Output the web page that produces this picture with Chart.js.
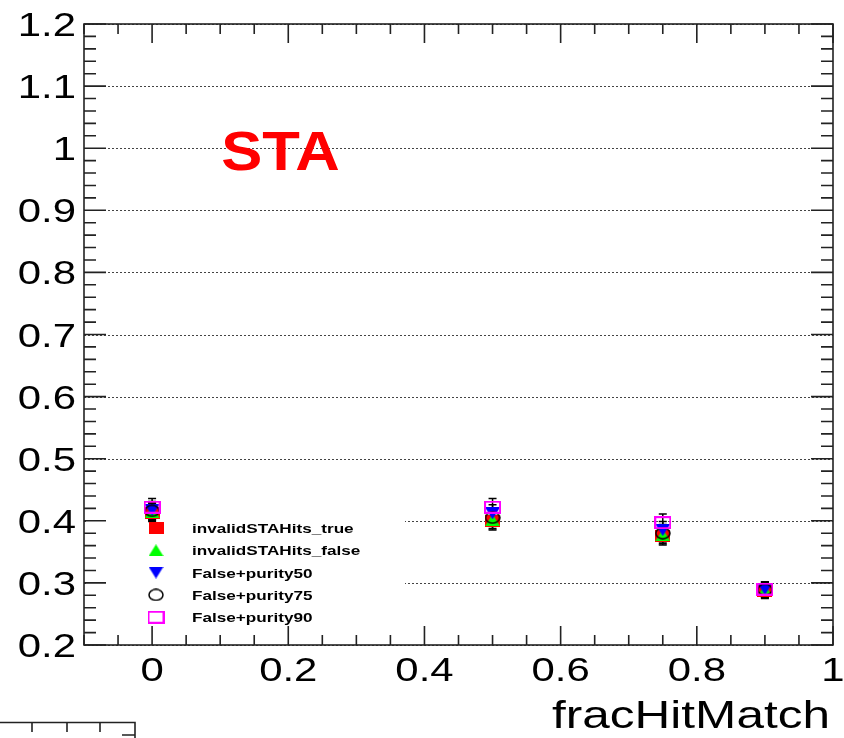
<!DOCTYPE html>
<html><head><meta charset="utf-8">
<script src="https://cdn.jsdelivr.net/npm/chart.js@4.4.0/dist/chart.umd.min.js"></script>
<style>html,body{margin:0;padding:0;background:#fff;}#wrap{width:844px;height:738px;}</style>
</head><body><div id="wrap"><canvas id="c" width="844" height="738"></canvas></div>
<script>
// ---- data ----
const fracHitMatch = [0, 0.5, 0.75, 0.9];
const seriesLabels = ['invalidSTAHits_true', 'invalidSTAHits_false', 'False+purity50', 'False+purity75', 'False+purity90'];
const invalidSTAHitsTrue  = [0.413, 0.399, 0.375, 0.287];
const invalidSTAHitsFalse = [0.414, 0.401, 0.377, 0.288];
const falsePurity50       = [0.417, 0.412, 0.385, 0.290];
const falsePurity75       = [0.416, 0.405, 0.380, 0.289];
const falsePurity90       = [0.422, 0.422, 0.397, 0.290];
const errTrue   = [0.014, 0.014, 0.014, 0.012];
const errFalse  = [0.014, 0.014, 0.014, 0.012];
const err50     = [0.014, 0.014, 0.014, 0.012];
const err75     = [0.014, 0.014, 0.014, 0.012];
const err90     = [0.014, 0.014, 0.014, 0.012];
const yTickValues = [0.2, 0.3, 0.4, 0.5, 0.6, 0.7, 0.8, 0.9, 1.0, 1.1, 1.2];
const yTickLabels = ['0.2', '0.3', '0.4', '0.5', '0.6', '0.7', '0.8', '0.9', '1', '1.1', '1.2'];
const xTickValues = [0, 0.2, 0.4, 0.6, 0.8, 1.0];
const xTickLabels = ['0', '0.2', '0.4', '0.6', '0.8', '1'];
const xAxisTitle = 'fracHitMatch';
const plotLabel = 'STA';

const values = [invalidSTAHitsTrue, invalidSTAHitsFalse, falsePurity50, falsePurity75, falsePurity90];
const errors = [errTrue, errFalse, err50, err75, err90];

// ---- styling ----
const SX = 1.27; // horizontal text stretch of the original picture
const FONT = '"Liberation Sans", Arial, Helvetica, sans-serif';

function makeMarker(w, h, draw) {
  const c = document.createElement('canvas');
  c.width = w; c.height = h;
  draw(c.getContext('2d'), w, h);
  return c;
}
const markers = [
  makeMarker(15, 12, (g, w, h) => { g.fillStyle = '#ff0000'; g.fillRect(0, 0, w, h); }),
  makeMarker(15, 12, (g, w, h) => { g.fillStyle = '#00ff00'; g.beginPath(); g.moveTo(w / 2, 0); g.lineTo(w, h); g.lineTo(0, h); g.closePath(); g.fill(); }),
  makeMarker(15, 12, (g, w, h) => { g.fillStyle = '#0000ff'; g.beginPath(); g.moveTo(0, 0); g.lineTo(w, 0); g.lineTo(w / 2, h); g.closePath(); g.fill(); }),
  makeMarker(16, 13, (g, w, h) => { g.strokeStyle = '#000'; g.lineWidth = 1.5; g.beginPath(); g.ellipse(w / 2, h / 2, w / 2 - 1, h / 2 - 1, 0, 0, Math.PI * 2); g.stroke(); }),
  makeMarker(17, 13, (g, w, h) => { g.strokeStyle = '#ff00ff'; g.lineWidth = 2; g.strokeRect(1, 1, w - 2, h - 2); })
];

function sText(ctx, text, x, y, align, font, color, sx) {
  const k = sx || SX;
  ctx.save();
  ctx.font = font;
  ctx.fillStyle = color;
  ctx.textBaseline = 'alphabetic';
  ctx.textAlign = 'left';
  const w = ctx.measureText(text).width * k;
  const x0 = align === 'right' ? x - w : (align === 'center' ? x - w / 2 : x);
  ctx.translate(x0, y);
  ctx.scale(k, 1);
  ctx.fillText(text, 0, 0);
  ctx.restore();
}

const datasets = seriesLabels.map((lab, i) => ({
  label: lab,
  data: fracHitMatch.map((x, j) => ({ x: x, y: values[i][j] })),
  pointStyle: markers[i],
  pointRadius: 8,
  showLine: false,
  order: seriesLabels.length - 1 - i
}));

const rootPlugin = {
  id: 'rootStyle',
  beforeDatasetsDraw(chart) {
    const { ctx, chartArea: a, scales: { x, y } } = chart;
    // dotted horizontal grid
    ctx.save();
    ctx.strokeStyle = '#444';
    ctx.lineWidth = 1;
    ctx.setLineDash([2, 2]);
    yTickValues.forEach(v => {
      const py = Math.round(y.getPixelForValue(v)) + 0.5;
      ctx.beginPath(); ctx.moveTo(a.left, py); ctx.lineTo(a.right, py); ctx.stroke();
    });
    ctx.restore();
    // legend box (white, covers grid)
    ctx.save();
    ctx.fillStyle = '#fff';
    ctx.fillRect(a.left + 2, a.top + 490, 319, 118);
    ctx.restore();
    // error bars
    ctx.save();
    ctx.strokeStyle = '#000';
    ctx.lineWidth = 1.5;
    values.forEach((vals, i) => {
      vals.forEach((v, j) => {
        const px = x.getPixelForValue(fracHitMatch[j]);
        const p1 = y.getPixelForValue(v + errors[i][j]);
        const p2 = y.getPixelForValue(v - errors[i][j]);
        ctx.beginPath();
        ctx.moveTo(px, p1); ctx.lineTo(px, p2);
        ctx.moveTo(px - 4, p1); ctx.lineTo(px + 4, p1);
        ctx.moveTo(px - 4, p2); ctx.lineTo(px + 4, p2);
        ctx.stroke();
      });
    });
    ctx.restore();
  },
  afterDraw(chart) {
    const { ctx, chartArea: a, scales: { x, y } } = chart;
    ctx.save();
    ctx.strokeStyle = '#222';
    ctx.lineWidth = 1.6;
    // frame
    ctx.strokeRect(a.left, a.top, a.right - a.left, a.bottom - a.top);
    // x ticks (bottom & top), minor every 0.05
    for (let k = -2; k <= 20; k++) {
      const v = k * 0.05;
      if (v < x.min - 1e-9 || v > x.max + 1e-9) continue;
      const px = x.getPixelForValue(v);
      const len = (k % 4 === 0) ? 19 : 10;
      ctx.beginPath();
      ctx.moveTo(px, a.bottom); ctx.lineTo(px, a.bottom - len);
      ctx.moveTo(px, a.top); ctx.lineTo(px, a.top + len);
      ctx.stroke();
    }
    // y ticks, minor every 0.02
    for (let k = 10; k <= 60; k++) {
      const v = k * 0.02;
      const py = y.getPixelForValue(v);
      const len = (k % 5 === 0) ? 22 : 12;
      ctx.beginPath();
      ctx.moveTo(a.left, py); ctx.lineTo(a.left + len, py);
      ctx.moveTo(a.right, py); ctx.lineTo(a.right - len, py);
      ctx.stroke();
    }
    // fragment of neighbouring pad at bottom-left
    ctx.beginPath();
    ctx.moveTo(0, 722.5); ctx.lineTo(135, 722.5); ctx.lineTo(135, 738);
    [32, 67, 100].forEach(t => { ctx.moveTo(t, 722.5); ctx.lineTo(t, 732); });
    ctx.moveTo(122, 735); ctx.lineTo(135, 735);
    ctx.stroke();
    ctx.restore();

    // tick labels
    const tf = '33px ' + FONT;
    yTickValues.forEach((v, i) => {
      sText(ctx, yTickLabels[i], a.left - 8, y.getPixelForValue(v) + 12, 'right', tf, '#000');
    });
    xTickValues.forEach((v, i) => {
      sText(ctx, xTickLabels[i], x.getPixelForValue(v), a.bottom + 36, 'center', tf, '#000');
    });
    // axis title
    sText(ctx, xAxisTitle, a.right - 3, a.bottom + 83, 'right', '39px ' + FONT, '#000');
    // STA label
    sText(ctx, plotLabel, x.getPixelForValue(0.1) + 1, y.getPixelForValue(1.0) + 22, 'left', 'bold 56px ' + FONT, '#ff0000', 1.1);

    // legend entries
    const lf = 'bold 13.5px ' + FONT;
    seriesLabels.forEach((lab, i) => {
      const ry = a.top + 504 + i * 22.3;
      const m = markers[i];
      ctx.drawImage(m, a.left + 72 - m.width / 2, ry - m.height / 2);
      sText(ctx, lab, a.left + 108, ry + 5, 'left', lf, '#000');
    });
  }
};

new Chart(document.getElementById('c'), {
  type: 'scatter',
  data: { datasets: datasets },
  options: {
    responsive: false,
    animation: false,
    devicePixelRatio: 1,
    layout: { padding: { top: 24, right: 11, left: 0, bottom: 0 } },
    plugins: { legend: { display: false }, tooltip: { enabled: false } },
    scales: {
      x: {
        type: 'linear', min: -0.1, max: 1.0,
        grid: { display: false }, border: { display: false },
        ticks: { display: false },
        afterFit: s => { s.height = 93; }
      },
      y: {
        type: 'linear', min: 0.2, max: 1.2,
        grid: { display: false }, border: { display: false },
        ticks: { display: false },
        afterFit: s => { s.width = 84; }
      }
    }
  },
  plugins: [rootPlugin]
});
</script>
</body></html>
